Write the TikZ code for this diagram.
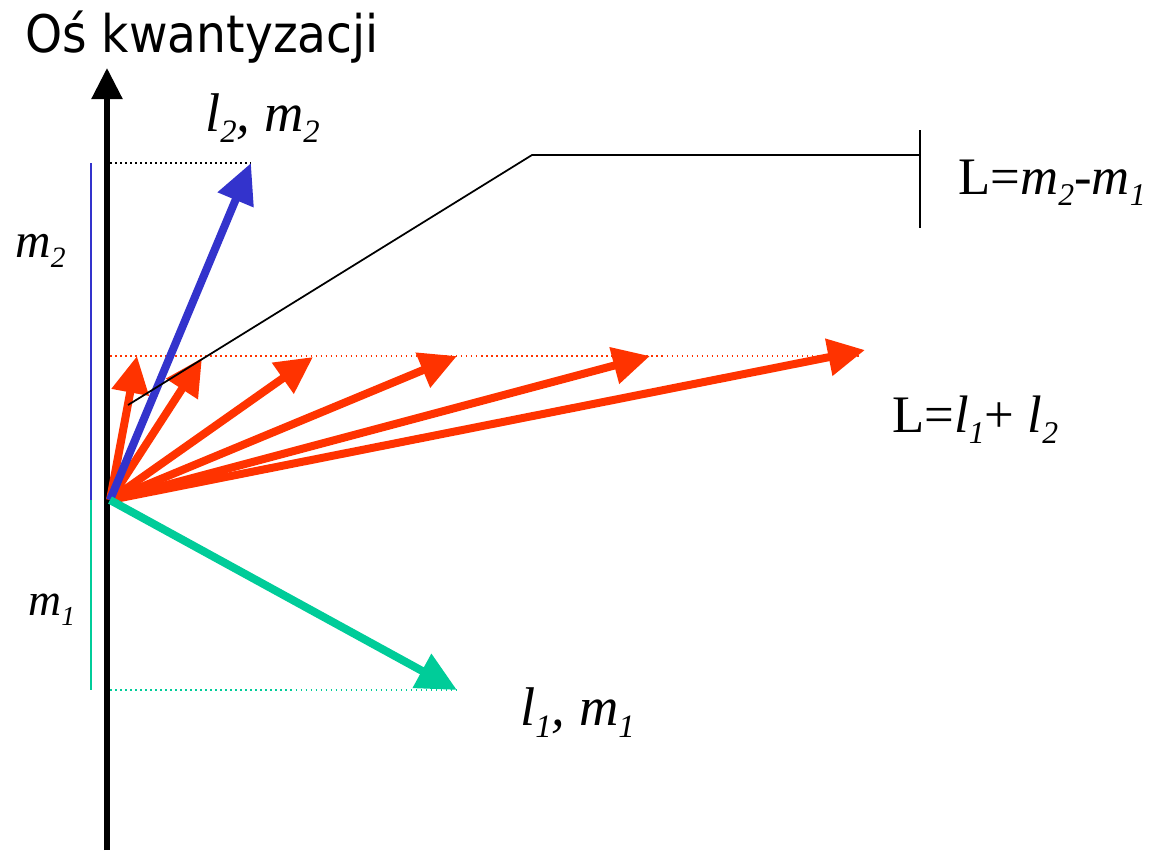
\documentclass[tikz,border=0pt]{standalone}
\usepackage{fontspec}
\usetikzlibrary{arrows.meta}
\setmainfont{Liberation Serif}
\newfontfamily\titlefont[FakeStretch=0.91]{DejaVu Sans}
\newcommand{\sbs}[1]{\raisebox{-0.22em}{\scalebox{0.6}{#1}}}
\definecolor{vred}{HTML}{FF3300}
\definecolor{vblue}{HTML}{3333CC}
\definecolor{vgreen}{HTML}{00CC99}
\tikzset{
  lbl/.style={anchor=base west, inner sep=0pt, font=\itshape},
  vecred/.style={draw=vred, line width=0.16cm, -{Triangle[length=0.74cm,width=0.72cm]}},
  vecblue/.style={draw=vblue, line width=0.16cm, -{Triangle[length=0.8cm,width=0.74cm]}},
  vecgreen/.style={draw=vgreen, line width=0.16cm, -{Triangle[length=0.8cm,width=0.74cm]}},
  guide/.style={dotted, line width=0.03cm},
  proj/.style={line width=0.03cm},
  thin line/.style={line width=0.035cm},
}
\begin{document}
\begin{tikzpicture}[x=0.02cm,y=-0.02cm]
\useasboundingbox (0,0) rectangle (1153,850);
% title
\node[anchor=base west, inner sep=0pt, font=\titlefont\fontsize{29.5pt}{32pt}\selectfont] (title) at (25,52) {Oś kwantyzacji};
% coordinates
\coordinate (O) at (110,500);
\coordinate (axb) at (107,850);
\coordinate (axt) at (107,68);
\coordinate (tb) at (251,163);
\coordinate (tg) at (457,690);
\coordinate (r1) at (137,356);
\coordinate (r2) at (202,358);
\coordinate (r3) at (313,357);
\coordinate (r4) at (457,356);
\coordinate (r5) at (650,356);
\coordinate (r6) at (865,350);
\coordinate (bl1) at (91,163);
\coordinate (bl2) at (91,500);
\coordinate (gl2) at (91,690);
\coordinate (d1a) at (110,163);
\coordinate (d2a) at (110,356);
\coordinate (d2b) at (860,356);
\coordinate (d3a) at (110,690);
\coordinate (p1) at (128,405);
\coordinate (p2) at (532,155);
\coordinate (p3) at (920,155);
\coordinate (k1) at (920,130);
\coordinate (k2) at (920,228);
% axis
\draw[line width=0.11cm, -{Triangle[length=0.62cm,width=0.6cm]}] (axb) -- (axt);
% projections
\draw[proj, draw=vblue] (bl1) -- (bl2);
\draw[proj, draw=vgreen] (bl2) -- (gl2);
\draw[guide, draw=black] (d1a) -- (tb);
\draw[guide, draw=vred] (d2a) -- (d2b);
\draw[guide, draw=vgreen] (d3a) -- (tg);
% red vectors
\foreach \t in {r1,r2,r3,r4,r5,r6}{
  \draw[vecred] (O) -- (\t);
}
% blue and green
\draw[vecblue] (O) -- (tb);
\draw[vecgreen] (O) -- (tg);
% bracket line
\draw[thin line] (p1) -- (p2) -- (p3);
\draw[thin line] (k1) -- (k2);
% labels
\node[lbl, font=\itshape\fontsize{31pt}{33pt}\selectfont] (l2m2) at (205,131) {l\sbs{2}, m\sbs{2}};
\node[lbl, font=\itshape\fontsize{28pt}{30pt}\selectfont] (m2) at (15,257) {m\sbs{2}};
\node[lbl, font=\itshape\fontsize{26pt}{30pt}\selectfont] (m1) at (28,615) {m\sbs{1}};
\node[lbl, font=\itshape\fontsize{31pt}{33pt}\selectfont] (l1m1) at (520,725) {l\sbs{1}, m\sbs{1}};
\node[lbl, font=\fontsize{30pt}{32pt}\selectfont] (Ldiff) at (958,194) {L=\textit{m\sbs{2}-m\sbs{1}}};
\node[lbl, font=\fontsize{30pt}{32pt}\selectfont] (Lsum) at (892,432) {L=\textit{l\sbs{1}}+ \textit{l\sbs{2}}};
\end{tikzpicture}
\end{document}
